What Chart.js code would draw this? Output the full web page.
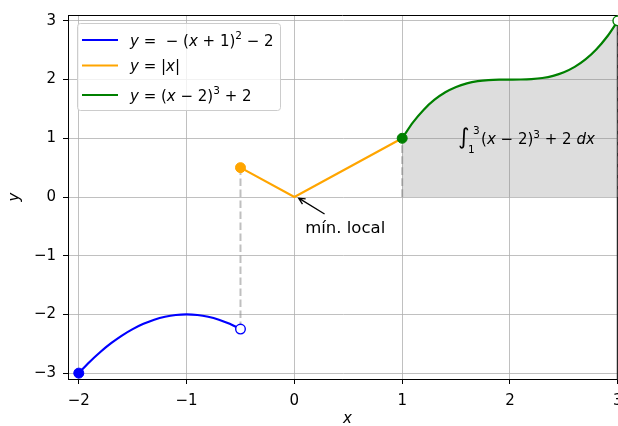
<!DOCTYPE html>
<html>
<head>
<meta charset="utf-8">
<script src="https://cdn.jsdelivr.net/npm/chart.js@4.4.0/dist/chart.umd.min.js"></script>
<style>
  html, body { margin: 0; padding: 0; background: #fff; overflow: hidden; width: 618px; height: 426px; }
</style>
</head>
<body>
<canvas id="chart" width="624" height="426"></canvas>
<script>
// ---------------- data ----------------
const blueX = [-2, -1.9, -1.8, -1.7, -1.6, -1.5, -1.4, -1.3, -1.2, -1.1, -1, -0.9, -0.8, -0.7, -0.6, -0.5];
const blueY = [-3, -2.81, -2.64, -2.49, -2.36, -2.25, -2.16, -2.09, -2.04, -2.01, -2, -2.01, -2.04, -2.09, -2.16, -2.25];

const absX = [-0.5, 0, 1];
const absY = [0.5, 0, 1];

const cubicX = [1, 1.1, 1.2, 1.3, 1.4, 1.5, 1.6, 1.7, 1.8, 1.9, 2, 2.1, 2.2, 2.3, 2.4, 2.5, 2.6, 2.7, 2.8, 2.9, 3];
const cubicY = [1, 1.271, 1.488, 1.657, 1.784, 1.875, 1.936, 1.973, 1.992, 1.999, 2, 2.001, 2.008, 2.027, 2.064, 2.125, 2.216, 2.343, 2.512, 2.729, 3];

// closed / open end points
const closedX = [-2, -0.5, 1];
const closedY = [-3, 0.5, 1];
const openX = [-0.5, 3];
const openY = [-2.25, 3];

// dashed vertical guides (x, from y, to y)
const guideX = [-0.5, 1, 3];
const guideLo = [-2.25, 0, 0];
const guideHi = [0.5, 1, 3];

const xTicks = [-2, -1, 0, 1, 2, 3];
const yTicks = [-3, -2, -1, 0, 1, 2, 3];

const BLUE = "#0000ff", ORANGE = "#ffa500", GREEN = "#008000";
const FONT = '"DejaVu Sans"';

const zip = (xs, ys) => xs.map((x, i) => ({ x: x, y: ys[i] }));
const minus = v => String(v).replace("-", "\u2212");

// draws a run of mathtext-like pieces, returns end x
function mathRun(ctx, x, y, parts, size) {
    for (const [t, s] of parts) {
        let f = size, dy = 0, style = "";
        if (s === "i") style = "italic ";
        if (s === "sup") { f = size * 0.7; dy = -size * 0.42; }
        if (s === "sub") { f = size * 0.7; dy = size * 0.3; }
        ctx.font = style + f + "px " + FONT;
        ctx.fillText(t, x, y + dy);
        x += ctx.measureText(t).width;
    }
    return x;
}

const guideSets = guideX.map((gx, i) => ({
    data: [{ x: gx, y: guideLo[i] }, { x: gx, y: guideHi[i] }],
    showLine: true,
    borderColor: "rgba(128,128,128,0.5)",
    borderWidth: 2,
    borderDash: [7.7, 3.3],
    pointRadius: 0
}));

// ---------------- extra drawing: frame, legend, labels ----------------
const decorations = {
    id: "decorations",
    beforeDatasetsDraw(chart) {
        const { ctx, chartArea: a } = chart;
        ctx.save();
        ctx.strokeStyle = "#000";
        ctx.lineWidth = 1;
        ctx.beginPath();
        ctx.moveTo(a.left, a.top + 0.5);
        ctx.lineTo(a.right - 0.5, a.top + 0.5);
        ctx.lineTo(a.right - 0.5, a.bottom);
        ctx.stroke();
        ctx.restore();
    },
    afterDraw(chart) {
        const { ctx, scales: { x, y } } = chart;
        ctx.save();
        ctx.fillStyle = "#000";
        ctx.textBaseline = "alphabetic";

        // integral label, left / centre at (1.5, 1)
        const ix = x.getPixelForValue(1.5), iy = y.getPixelForValue(1) + 6;
        ctx.font = "22px " + FONT;
        ctx.fillText("\u222b", ix + 2, iy);
        mathRun(ctx, ix + 17, iy - 10, [["3", "n"]], 10.5);
        mathRun(ctx, ix + 12, iy + 9, [["1", "n"]], 10.5);
        mathRun(ctx, ix + 25, iy, [["(", "n"], ["x", "i"], [" \u2212 2)", "n"], ["3", "sup"], [" + 2 ", "n"], ["dx", "i"]], 15);

        // annotation
        ctx.font = "16.5px " + FONT;
        ctx.fillText("m\u00edn. local", x.getPixelForValue(0.1), y.getPixelForValue(-0.61));
        const tx = x.getPixelForValue(0.28), ty = y.getPixelForValue(-0.29);
        const hx = x.getPixelForValue(0.04), hy = y.getPixelForValue(-0.02);
        const ang = Math.atan2(hy - ty, hx - tx);
        ctx.strokeStyle = "#000";
        ctx.lineWidth = 1.3;
        ctx.beginPath();
        ctx.moveTo(tx, ty);
        ctx.lineTo(hx, hy);
        ctx.moveTo(hx - 7 * Math.cos(ang - 0.45), hy - 7 * Math.sin(ang - 0.45));
        ctx.lineTo(hx, hy);
        ctx.lineTo(hx - 7 * Math.cos(ang + 0.45), hy - 7 * Math.sin(ang + 0.45));
        ctx.stroke();

        // axis titles
        ctx.font = "italic 15px " + FONT;
        ctx.textAlign = "center";
        ctx.textBaseline = "middle";
        ctx.fillText("x", 347.5, 419);
        ctx.save();
        ctx.translate(15, 197);
        ctx.rotate(-Math.PI / 2);
        ctx.fillText("y", 0, 0);
        ctx.restore();
        ctx.textAlign = "left";
        ctx.textBaseline = "alphabetic";

        // legend
        ctx.fillStyle = "rgba(255,255,255,0.8)";
        ctx.strokeStyle = "#cccccc";
        ctx.lineWidth = 1;
        ctx.beginPath();
        ctx.roundRect(77.5, 23.5, 203, 87, 3);
        ctx.fill();
        ctx.stroke();
        const rows = [
            [BLUE, 40, [["y", "i"], [" =  \u2212 (", "n"], ["x", "i"], [" + 1)", "n"], ["2", "sup"], [" \u2212 2", "n"]]],
            [ORANGE, 65.5, [["y", "i"], [" = |", "n"], ["x", "i"], ["|", "n"]]],
            [GREEN, 95, [["y", "i"], [" = (", "n"], ["x", "i"], [" \u2212 2)", "n"], ["3", "sup"], [" + 2", "n"]]]
        ];
        for (const [col, ly, parts] of rows) {
            ctx.strokeStyle = col;
            ctx.lineWidth = 2.2;
            ctx.beginPath();
            ctx.moveTo(82, ly);
            ctx.lineTo(118, ly);
            ctx.stroke();
            ctx.fillStyle = "#000";
            mathRun(ctx, 130, ly + 5.5, parts, 15);
        }
        ctx.restore();
    }
};

Chart.defaults.font.family = FONT;
Chart.defaults.font.size = 15;
Chart.defaults.color = "#000";

new Chart(document.getElementById("chart"), {
    type: "scatter",
    data: {
        datasets: [
            {
                data: zip(closedX, closedY),
                pointRadius: 5,
                pointBorderWidth: 1,
                pointBackgroundColor: [BLUE, ORANGE, GREEN],
                pointBorderColor: [BLUE, ORANGE, GREEN],
                clip: false
            },
            {
                data: zip(openX, openY),
                pointRadius: 4.8,
                pointBorderWidth: 1.4,
                pointBackgroundColor: "#fff",
                pointBorderColor: [BLUE, GREEN],
                clip: false
            },
            {
                data: zip(blueX, blueY),
                showLine: true,
                borderColor: BLUE,
                borderWidth: 2.2,
                pointRadius: 0,
                cubicInterpolationMode: "monotone"
            },
            {
                data: zip(absX, absY),
                showLine: true,
                borderColor: ORANGE,
                borderWidth: 2.2,
                pointRadius: 0
            },
            {
                data: zip(cubicX, cubicY),
                showLine: true,
                borderColor: GREEN,
                borderWidth: 2.2,
                pointRadius: 0,
                cubicInterpolationMode: "monotone"
            },
            {
                data: zip(cubicX, cubicY),
                showLine: true,
                borderWidth: 0,
                borderColor: "rgba(0,0,0,0)",
                pointRadius: 0,
                fill: "origin",
                backgroundColor: "rgba(128,128,128,0.27)",
                cubicInterpolationMode: "monotone"
            },
            ...guideSets
        ]
    },
    options: {
        responsive: false,
        animation: false,
        events: [],
        layout: { padding: { left: 0, top: 15, right: 1, bottom: 0 } },
        plugins: {
            legend: { display: false },
            tooltip: { enabled: false },
            filler: { propagate: false }
        },
        scales: {
            x: {
                type: "linear",
                min: -2.1,
                max: 3,
                afterBuildTicks: s => { s.ticks = xTicks.map(v => ({ value: v })); },
                afterFit: s => { s.height = 47; s.paddingLeft = 0; s.paddingRight = 0; },
                ticks: { padding: 8, maxRotation: 0, callback: v => minus(v) },
                grid: { color: "#b0b0b0", lineWidth: 0.8, tickColor: "#000", tickLength: 5, tickWidth: 1 },
                border: { color: "#000", width: 1 }
            },
            y: {
                type: "linear",
                min: -3.1,
                max: 3.1,
                afterBuildTicks: s => { s.ticks = yTicks.map(v => ({ value: v })); },
                afterFit: s => { s.width = 68; s.paddingTop = 0; s.paddingBottom = 0; },
                ticks: { padding: 7, callback: v => minus(v) },
                grid: { color: "#b0b0b0", lineWidth: 0.8, tickColor: "#000", tickLength: 5, tickWidth: 1 },
                border: { color: "#000", width: 1 }
            }
        }
    },
    plugins: [decorations]
});
</script>
</body>
</html>
